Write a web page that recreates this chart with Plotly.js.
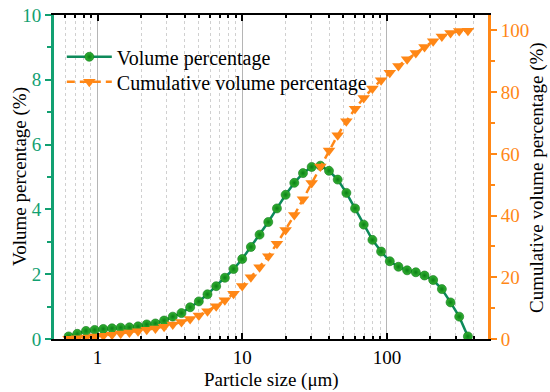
<!DOCTYPE html>
<html>
<head>
<meta charset="utf-8">
<script src="https://cdn.plot.ly/plotly-3.0.1.min.js"></script>
<style>html,body{margin:0;padding:0;background:#fff;}#chart{width:550px;height:392px;}</style>
</head>
<body>
<div id="chart"></div>
<script>
// Particle size (µm), bin centres
const particleSize = [0.631, 0.724, 0.832, 0.955, 1.096, 1.259, 1.445, 1.660, 1.905, 2.188,
  2.512, 2.884, 3.311, 3.802, 4.365, 5.012, 5.754, 6.607, 7.586, 8.710,
  10.0, 11.48, 13.18, 15.14, 17.38, 19.95, 22.91, 26.30, 30.20, 34.67,
  39.81, 45.71, 52.48, 60.26, 69.18, 79.43, 91.20, 104.7, 120.2, 138.0,
  158.5, 182.0, 208.9, 239.9, 275.4, 316.2, 363.1];

// Volume percentage (%)
const volumePct = [0.08, 0.16, 0.25, 0.28, 0.31, 0.33, 0.35, 0.36, 0.39, 0.45,
  0.48, 0.57, 0.69, 0.80, 0.98, 1.16, 1.38, 1.63, 1.89, 2.16,
  2.47, 2.84, 3.22, 3.61, 4.03, 4.45, 4.82, 5.12, 5.31, 5.35,
  5.19, 4.92, 4.51, 4.03, 3.53, 3.06, 2.70, 2.40, 2.23, 2.12,
  2.06, 1.96, 1.82, 1.54, 1.13, 0.69, 0.08];

// Cumulative volume percentage (%)
const cumulativePct = [0.08, 0.24, 0.49, 0.77, 1.08, 1.41, 1.76, 2.12, 2.51, 2.96,
  3.44, 4.01, 4.70, 5.50, 6.48, 7.64, 9.02, 10.65, 12.54, 14.70,
  17.17, 20.01, 23.24, 26.85, 30.88, 35.33, 40.15, 45.27, 50.58, 55.93,
  61.12, 66.04, 70.55, 74.58, 78.11, 81.17, 83.87, 86.27, 88.50, 90.62,
  92.68, 94.64, 96.46, 98.00, 99.13, 99.82, 99.90];

const seriesNames = ['Volume percentage', 'Cumulative volume percentage'];
const axisTitles = ['Particle size (μm)', 'Volume percentage (%)', 'Cumulative volume percentage (%)'];
const xTickVals = [1, 10, 100];
const xTickText = ['1', '10', '100'];

const GREEN_AX = '#12a071';
const GREEN_LINE = '#0d8a5a';
const ORANGE = '#ff8716';
const FONT = 'Liberation Serif, Times New Roman, serif';
const titleFont = {family: FONT, size: 19, color: '#000'};

const traces = [
  {
    x: particleSize, y: volumePct, name: seriesNames[0], type: 'scatter', mode: 'lines+markers',
    line: {color: GREEN_LINE, width: 2.5},
    marker: {symbol: 'circle', size: 9, color: '#33b333', line: {color: '#0a7414', width: 0.6},
             gradient: {type: 'radial', color: '#0b7f16'}},
    yaxis: 'y', legend: 'legend'
  },
  {
    x: particleSize, y: cumulativePct, name: seriesNames[1], type: 'scatter', mode: 'lines+markers',
    line: {color: ORANGE, width: 2.5, dash: '8px,5px'},
    marker: {symbol: 'triangle-down', size: 11, color: ORANGE, line: {width: 0}},
    yaxis: 'y2', legend: 'legend2'
  }
];

const legendCommon = {xanchor: 'left', yanchor: 'middle', bgcolor: 'rgba(0,0,0,0)',
  font: {family: FONT, size: 20, color: '#000'}, itemwidth: 45};

const layout = {
  width: 550, height: 392,
  margin: {l: 54, r: 62, t: 15, b: 53},
  paper_bgcolor: '#ffffff', plot_bgcolor: '#ffffff',
  font: {family: FONT, size: 19, color: '#000'},
  showlegend: true,
  legend: Object.assign({x: 0.018, y: 0.871}, legendCommon),
  legend2: Object.assign({x: 0.018, y: 0.794}, legendCommon),
  annotations: [
    {text: axisTitles[0], xref: 'paper', yref: 'paper', x: 0.5, y: -0.125,
     xanchor: 'center', yanchor: 'middle', showarrow: false, font: titleFont, borderpad: 0},
    {text: axisTitles[1], xref: 'paper', yref: 'paper', x: -0.0783, y: 0.5, textangle: -90,
     xanchor: 'center', yanchor: 'middle', showarrow: false, font: titleFont},
    {text: axisTitles[2], xref: 'paper', yref: 'paper', x: 1.1129, y: 0.5, textangle: -90,
     xanchor: 'center', yanchor: 'middle', showarrow: false, font: titleFont}
  ],
  xaxis: {
    type: 'log', range: [Math.log10(0.5), Math.log10(500)],
    tickvals: xTickVals, ticktext: xTickText,
    tickfont: {family: FONT, size: 19, color: '#000'},
    ticks: 'inside', ticklen: 6, tickwidth: 2, tickcolor: '#000',
    showline: true, linecolor: '#000', linewidth: 2, mirror: 'ticks',
    showgrid: true, gridcolor: '#b5b5b5', gridwidth: 1,
    minor: {dtick: 'D1', ticks: 'inside', ticklen: 3, tickwidth: 2, tickcolor: '#000',
            showgrid: true, gridcolor: '#d0d0d0', griddash: '3px,3px', gridwidth: 1},
    zeroline: false
  },
  yaxis: {
    range: [0, 10], dtick: 2, tick0: 0,
    tickfont: {family: FONT, size: 19, color: GREEN_AX},
    ticks: 'outside', ticklen: 6, tickwidth: 2, tickcolor: GREEN_AX,
    minor: {dtick: 1, ticks: 'outside', ticklen: 4, tickwidth: 2, tickcolor: GREEN_AX},
    showline: true, linecolor: GREEN_AX, linewidth: 3,
    showgrid: false, zeroline: false
  },
  yaxis2: {
    overlaying: 'y', side: 'right',
    range: [0, 105], dtick: 20, tick0: 0,
    tickfont: {family: FONT, size: 19, color: ORANGE},
    ticks: 'outside', ticklen: 6, tickwidth: 2, tickcolor: ORANGE,
    minor: {dtick: 10, ticks: 'outside', ticklen: 4, tickwidth: 2, tickcolor: ORANGE},
    showline: true, linecolor: ORANGE, linewidth: 3,
    showgrid: false, zeroline: false
  }
};

Plotly.newPlot('chart', traces, layout, {displayModeBar: false, staticPlot: true});
</script>
</body>
</html>
